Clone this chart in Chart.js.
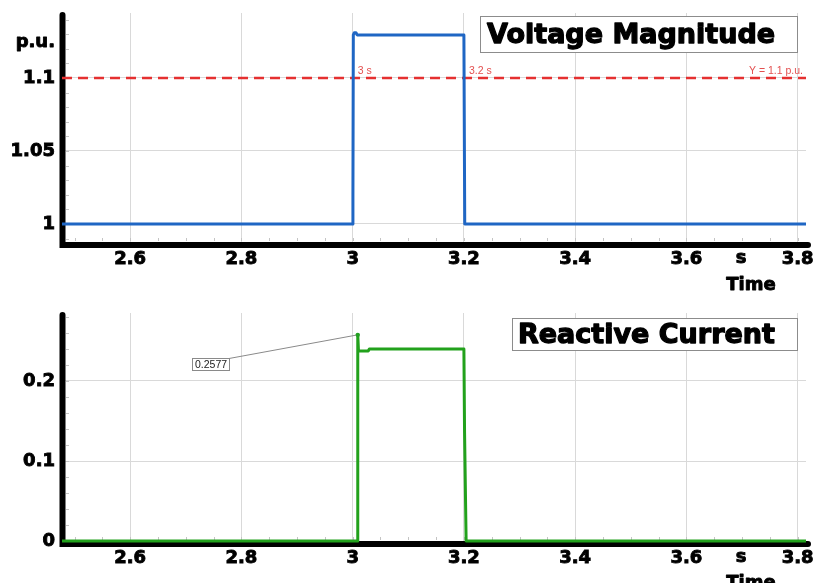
<!DOCTYPE html>
<html>
<head>
<meta charset="utf-8">
<script src="https://cdn.jsdelivr.net/npm/chart.js@4.4.1/dist/chart.umd.min.js"></script>
<style>
  html, body { margin: 0; padding: 0; background: #fff; }
  #wrap { position: relative; width: 813px; height: 583px; overflow: hidden; }
  canvas { position: absolute; left: 0; }
</style>
</head>
<body>
<div id="wrap">
  <canvas id="volt" width="813" height="295" style="top:0"></canvas>
  <canvas id="curr" width="813" height="288" style="top:295px"></canvas>
</div>
<script>
// shared time axis
const xTicks = [2.6, 2.8, 3.0, 3.2, 3.4, 3.6, 3.8];
const xRange = [2.4775, 3.815];

// voltage magnitude (p.u.)
const voltTicks = [1, 1.05, 1.1];
const voltRange = [0.9863, 1.1445];
const voltTime  = [2.4775, 3.0, 3.0005, 3.0012, 3.003, 3.006, 3.008, 3.2, 3.2015, 3.815];
const voltValue = [1.0, 1.0, 1.02, 1.1295, 1.131, 1.131, 1.1295, 1.1295, 1.0, 1.0];
const threshold = 1.1;
const crossTimes = [3.0, 3.2];

// reactive current
const currTicks = [0, 0.1, 0.2];
const currRange = [-0.0025, 0.285];
const currTime  = [2.4775, 3.008, 3.0092, 3.0105, 3.028, 3.03, 3.2, 3.2012, 3.204, 3.815];
const currValue = [0, 0, 0.2577, 0.2375, 0.2375, 0.24, 0.24, 0.135, 0, 0];
const peakTime = 3.0092;
const peakValue = 0.2577;

const BOLD = 'bold 18px "DejaVu Sans"';
const GRID = '#d9d9d9';

function toXY(xs, ys) {
    return xs.map(function(x, i) { return { x: x, y: ys[i] }; });
}

function fmt(v) {
    return String(+v.toFixed(2));
}

const tickFont = { family: 'DejaVu Sans', size: 18, weight: 'bold' };

function xScaleOpts(height) {
    return {
        type: 'linear',
        min: xRange[0],
        max: xRange[1],
        afterBuildTicks: function(s) { s.ticks = xTicks.map(function(v) { return { value: v }; }); },
        afterFit: function(s) { s.height = height; s.paddingLeft = 0; s.paddingRight = 0; },
        grid: { color: GRID, lineWidth: 1, drawTicks: false },
        border: { display: false },
        ticks: {
            color: '#000', padding: 5, maxRotation: 0, autoSkip: false, font: tickFont,
            textStrokeColor: '#000', textStrokeWidth: 0.9,
            callback: function(v) { return fmt(v); }
        }
    };
}

function yScaleOpts(range, ticks) {
    return {
        type: 'linear',
        min: range[0],
        max: range[1],
        afterBuildTicks: function(s) { s.ticks = ticks.map(function(v) { return { value: v }; }); },
        afterFit: function(s) { s.width = 62; s.paddingTop = 0; s.paddingBottom = 0; },
        grid: { color: GRID, lineWidth: 1, drawTicks: false },
        border: { display: false },
        ticks: {
            color: '#000', padding: 7, autoSkip: false, font: tickFont,
            textStrokeColor: '#000', textStrokeWidth: 0.9,
            callback: function(v) { return fmt(v); }
        }
    };
}

// heavy text: fill plus a thin stroke
function heavyText(ctx, text, x, y, w) {
    ctx.lineWidth = w;
    ctx.strokeStyle = ctx.fillStyle;
    ctx.lineJoin = 'round';
    ctx.strokeText(text, x, y);
    ctx.fillText(text, x, y);
}

// thick black axes and the faint minor marks
function drawAxes(chart, xStep, yStep, yStart) {
    const ctx = chart.ctx, a = chart.chartArea;
    const xs = chart.scales.x, ys = chart.scales.y;
    ctx.save();
    ctx.strokeStyle = '#c4c4c4';
    ctx.lineWidth = 1;
    ctx.beginPath();
    for (let v = 2.5; v < xRange[1]; v += xStep) {
        const px = Math.round(xs.getPixelForValue(v)) + 0.5;
        ctx.moveTo(px, a.bottom - 3);
        ctx.lineTo(px, a.bottom - 6);
    }
    for (let v = yStart; v < ys.max; v += yStep) {
        const py = Math.round(ys.getPixelForValue(v)) + 0.5;
        ctx.moveTo(a.left + 4, py);
        ctx.lineTo(a.left + 7, py);
    }
    ctx.stroke();
    ctx.strokeStyle = '#000';
    ctx.lineWidth = 6;
    ctx.lineCap = 'round';
    ctx.beginPath();
    ctx.moveTo(a.left + 0.5, a.top + 2);
    ctx.lineTo(a.left + 0.5, a.bottom + 1);
    ctx.lineTo(a.right + 2, a.bottom + 1);
    ctx.stroke();
    ctx.restore();
}

function drawTitle(ctx, text, bx, by, bw, bh, tx, ty) {
    ctx.save();
    ctx.fillStyle = '#fff';
    ctx.fillRect(bx, by, bw, bh);
    ctx.strokeStyle = '#8c8c8c';
    ctx.lineWidth = 1;
    ctx.strokeRect(bx + 0.5, by + 0.5, bw, bh);
    ctx.fillStyle = '#000';
    ctx.font = 'bold 27px "DejaVu Sans"';
    ctx.textBaseline = 'alphabetic';
    heavyText(ctx, text, tx, ty, 1.3);
    ctx.restore();
}

function drawTimeLabel(ctx, sy, ty) {
    ctx.save();
    ctx.fillStyle = '#000';
    ctx.font = BOLD;
    ctx.textAlign = 'center';
    ctx.textBaseline = 'middle';
    heavyText(ctx, 's', 741, sy, 0.9);
    heavyText(ctx, 'Time', 751, ty, 0.9);
    ctx.restore();
}

const voltDecor = {
    id: 'voltDecor',
    beforeDatasetsDraw: function(chart) { drawAxes(chart, 0.05, 0.01, 0.99); },
    afterDraw: function(chart) {
        const ctx = chart.ctx, xs = chart.scales.x, ys = chart.scales.y;
        const yT = ys.getPixelForValue(threshold);
        ctx.save();
        ctx.fillStyle = '#e35050';
        ctx.font = '10.5px "Liberation Sans"';
        ctx.textBaseline = 'alphabetic';
        crossTimes.forEach(function(t) {
            ctx.fillText(fmt(t) + ' s', xs.getPixelForValue(t) + 5, yT - 4);
        });
        ctx.textAlign = 'right';
        ctx.fillText('Y = ' + fmt(threshold) + ' p.u.', 803, yT - 4);
        ctx.fillStyle = '#000';
        ctx.font = BOLD;
        heavyText(ctx, 'p.u.', 55, 47, 0.9);
        ctx.restore();
        drawTitle(ctx, 'Voltage Magnitude', 480, 16, 317, 36, 487, 43);
        drawTimeLabel(ctx, 258, 285);
    }
};

const currDecor = {
    id: 'currDecor',
    beforeDatasetsDraw: function(chart) { drawAxes(chart, 0.05, 0.02, 0.02); },
    afterDraw: function(chart) {
        const ctx = chart.ctx, xs = chart.scales.x, ys = chart.scales.y;
        const px = xs.getPixelForValue(peakTime), py = ys.getPixelForValue(peakValue);
        ctx.save();
        ctx.strokeStyle = '#8a8a8a';
        ctx.lineWidth = 1;
        ctx.beginPath();
        ctx.moveTo(229, 63.5);
        ctx.lineTo(px, py);
        ctx.stroke();
        ctx.fillStyle = '#fff';
        ctx.fillRect(192, 63, 37, 12);
        ctx.strokeRect(192.5, 63.5, 37, 12);
        ctx.fillStyle = '#222';
        ctx.font = '10.5px "Liberation Sans"';
        ctx.textAlign = 'center';
        ctx.textBaseline = 'middle';
        ctx.fillText(peakValue.toFixed(4), 211, 70);
        ctx.fillStyle = '#22a022';
        ctx.beginPath();
        ctx.arc(px, py, 2.2, 0, Math.PI * 2);
        ctx.fill();
        ctx.restore();
        drawTitle(ctx, 'Reactive Current', 512, 23, 285, 32, 518, 48);
        drawTimeLabel(ctx, 262, 288);
    }
};

function baseOptions(yRange, yTicks, xHeight, padTop) {
    return {
        responsive: false,
        animation: false,
        events: [],
        layout: { padding: { top: padTop, right: 7, left: 0, bottom: 0 } },
        plugins: { legend: { display: false }, tooltip: { enabled: false } },
        elements: { point: { radius: 0 }, line: { tension: 0 } },
        scales: { x: xScaleOpts(xHeight), y: yScaleOpts(yRange, yTicks) }
    };
}

new Chart(document.getElementById('volt'), {
    type: 'line',
    data: {
        datasets: [
            {
                data: toXY(voltTime, voltValue),
                borderColor: '#1f66c4', borderWidth: 3, clip: 4,
                borderJoinStyle: 'round'
            },
            {
                data: toXY(xRange, [threshold, threshold]),
                borderColor: '#e53030', borderWidth: 2.6, borderDash: [10, 6], clip: 4
            }
        ]
    },
    options: baseOptions(voltRange, voltTicks, 295 - 244, 13),
    plugins: [voltDecor]
});

new Chart(document.getElementById('curr'), {
    type: 'line',
    data: {
        datasets: [
            {
                data: toXY(currTime, currValue),
                borderColor: '#22a11c', borderWidth: 3, clip: 5,
                borderJoinStyle: 'round'
            }
        ]
    },
    options: baseOptions(currRange, currTicks, 288 - 248, 18),
    plugins: [currDecor]
});
</script>
</body>
</html>
